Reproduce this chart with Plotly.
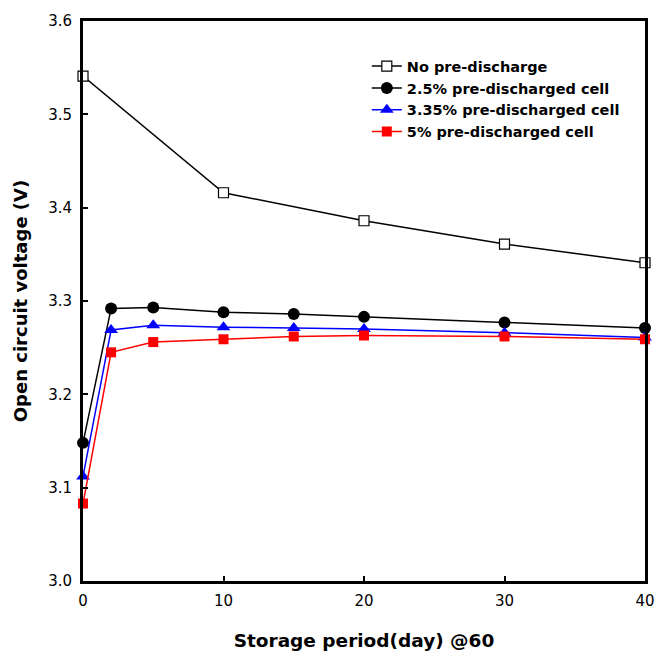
import plotly.graph_objects as go

days_full = [0, 10, 20, 30, 40]
days = [0, 2, 5, 10, 15, 20, 30, 40]
no_pre = [3.541, 3.416, 3.386, 3.361, 3.341]
pre_2_5 = [3.148, 3.292, 3.293, 3.288, 3.286, 3.283, 3.277, 3.271]
pre_3_35 = [3.112, 3.269, 3.274, 3.272, 3.271, 3.270, 3.266, 3.261]
pre_5 = [3.083, 3.245, 3.256, 3.259, 3.262, 3.263, 3.262, 3.259]

names = ["No pre-discharge", "2.5% pre-discharged cell",
         "3.35% pre-discharged cell", "5% pre-discharged cell"]

FONT = "DejaVu Sans"

fig = go.Figure()
fig.add_trace(go.Scatter(x=days_full, y=no_pre, name=names[0], mode="lines+markers",
                         line=dict(color="black", width=1.5),
                         marker=dict(symbol="square", size=10, color="white",
                                     line=dict(color="black", width=1.2)),
                         cliponaxis=False))
fig.add_trace(go.Scatter(x=days, y=pre_2_5, name=names[1], mode="lines+markers",
                         line=dict(color="black", width=1.5),
                         marker=dict(symbol="circle", size=12, color="black"),
                         cliponaxis=False))
fig.add_trace(go.Scatter(x=days, y=pre_3_35, name=names[2], mode="lines+markers",
                         line=dict(color="blue", width=1.5),
                         marker=dict(symbol="triangle-up", size=12, color="blue"),
                         cliponaxis=False))
fig.add_trace(go.Scatter(x=days, y=pre_5, name=names[3], mode="lines+markers",
                         line=dict(color="red", width=1.5),
                         marker=dict(symbol="square", size=10, color="red"),
                         cliponaxis=False))

axis_common = dict(showline=True, linecolor="black", linewidth=3, mirror=True,
                   ticks="inside", ticklen=5, tickwidth=1.5, tickcolor="black",
                   showgrid=False, zeroline=False, automargin=False,
                   tickfont=dict(family=FONT, size=15, color="black"))

fig.update_layout(
    width=655, height=652,
    margin=dict(l=83, r=10, t=21, b=71),
    paper_bgcolor="white", plot_bgcolor="white",
    xaxis=dict(range=[0, 40], tickvals=[0, 10, 20, 30, 40], ticklabelstandoff=4,
               title=dict(text="Storage period(day) @60", standoff=26,
                          font=dict(family=FONT, size=18.5, color="black", weight="bold")),
               **axis_common),
    yaxis=dict(range=[3.0, 3.6], tickvals=[3.0, 3.1, 3.2, 3.3, 3.4, 3.5, 3.6],
               tickformat=".1f", ticklabelstandoff=5,
               title=dict(text="Open circuit voltage (V)", standoff=16,
                          font=dict(family=FONT, size=18, color="black", weight="bold")),
               **axis_common),
    legend=dict(x=0.505, y=0.948, xanchor="left", yanchor="top",
                bgcolor="rgba(0,0,0,0)", tracegroupgap=0,
                font=dict(family=FONT, size=14.5, color="black", weight="bold")),
)

fig.write_html("out.html", config={"displayModeBar": False},
               post_script="document.body.style.margin='0';"
                           "document.documentElement.style.overflow='hidden';")
